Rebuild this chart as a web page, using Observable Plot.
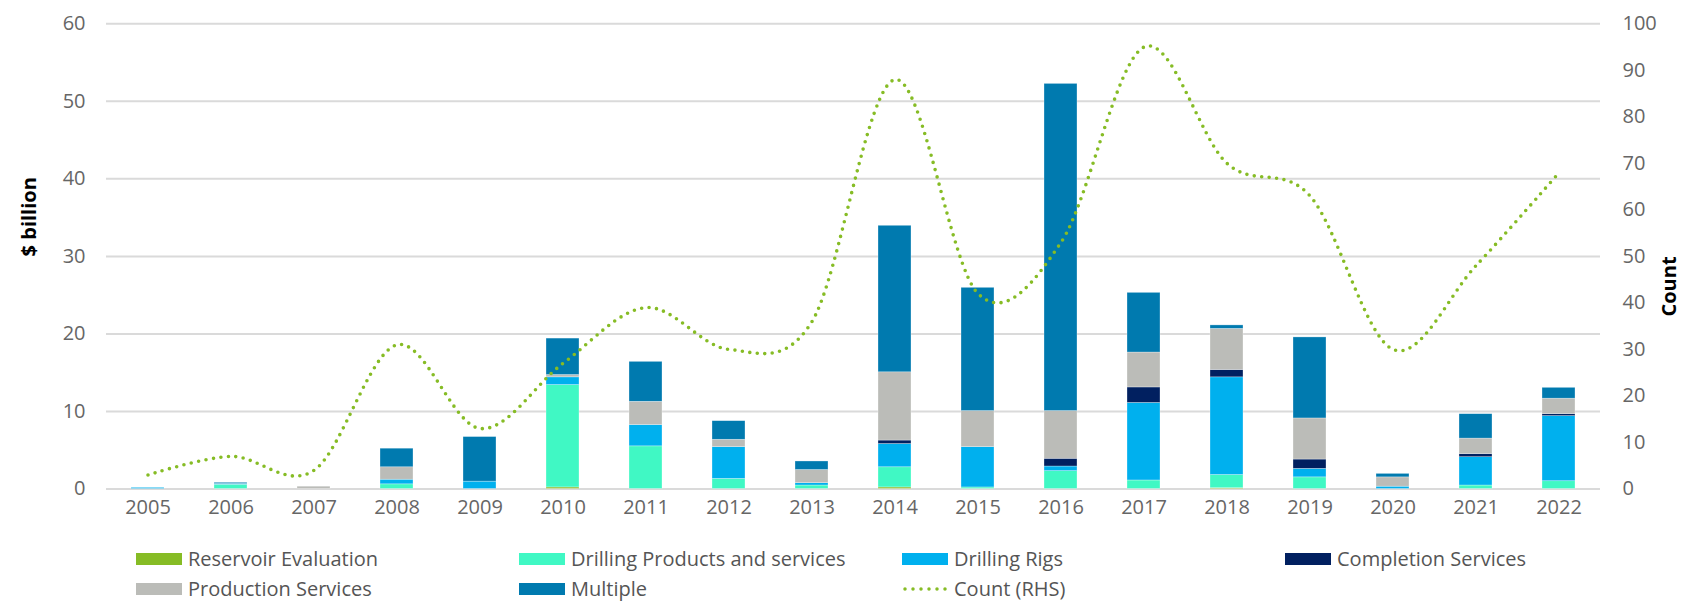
<!DOCTYPE html>
<html><head><meta charset="utf-8">
<script src="https://cdn.jsdelivr.net/npm/d3@7"></script>
<script src="https://cdn.jsdelivr.net/npm/@observablehq/plot@0.6"></script>
<style>
body{margin:0;background:#fff;font-family:"Open Sans",sans-serif;}
#wrap{position:relative;width:1682px;height:601px;overflow:hidden;}
#chart{position:absolute;left:0;top:0;}
.leg{position:absolute;display:flex;align-items:center;height:22px;line-height:22px;font-size:20px;color:#555;white-space:nowrap;}
.sw{width:46px;height:12px;margin-right:6px;flex:none;}
</style></head><body><div id="wrap"><div id="chart"></div></div>
<script>
const years = ["2005","2006","2007","2008","2009","2010","2011","2012","2013","2014","2015","2016","2017","2018","2019","2020","2021","2022"];
const types = ["Reservoir Evaluation","Drilling Products and services","Drilling Rigs","Completion Services","Production Services","Multiple"];
const colors = ["#86BC25","#40F8C4","#00B0EE","#012060","#BBBCB8","#007AAF"];
const reservoirEvaluation = [0,0,0,0,0,0.2,0,0,0,0.2,0,0,0,0.1,0,0,0,0];
const drillingProducts   = [0,0.55,0,0.6,0,13.2,5.5,1.3,0.45,2.6,0.2,2.3,1.1,1.7,1.5,0,0.45,1.0];
const drillingRigs       = [0.15,0.1,0,0.6,0.95,1.0,2.75,4.1,0.3,3.0,5.2,0.6,10.0,12.6,1.1,0.3,3.65,8.4];
const completionServices = [0,0,0,0,0,0,0,0,0,0.45,0,1.0,2.0,0.95,1.2,0,0.4,0.25];
const productionServices = [0,0,0.3,1.6,0,0.3,3.0,0.95,1.7,8.8,4.65,6.15,4.5,5.3,5.3,1.2,2.0,2.0];
const multiple           = [0,0.15,0,2.4,5.75,4.7,5.15,2.4,1.1,18.9,15.9,42.2,7.7,0.45,10.45,0.45,3.15,1.4];
const counts = [3,7,4,31,13,27,39,30,36,88,42,53,95,70,63,30,48,68];
const leftTicks = [0,10,20,30,40,50,60];
const rightTicks = [0,10,20,30,40,50,60,70,80,90,100];
const countLabel = "Count (RHS)";

const series = [reservoirEvaluation, drillingProducts, drillingRigs, completionServices, productionServices, multiple];
const rows = [];
years.forEach((y,i)=> types.forEach((t,j)=> rows.push({year:y, type:t, value:series[j][i]})));
const countRows = years.map((y,i)=>({year:y, count:counts[i]}));
const ratio = 60/100; // RHS 0–100 mapped onto LHS 0–60

const plot = Plot.plot({
  width:1682, height:530,
  marginLeft:106, marginRight:82, marginTop:23.3, marginBottom:41.5,
  style:{fontFamily:"Open Sans", fontSize:"20px", color:"#666", background:"transparent", overflow:"visible"},
  x:{domain:years, paddingInner:0.6, paddingOuter:0.3},
  y:{domain:[0,60]},
  color:{domain:types, range:colors},
  marks:[
    Plot.ruleY(leftTicks, {stroke:"#dadada", strokeWidth:2}),
    Plot.barY(rows, {x:"year", y:"value", fill:"type", order:types, stroke:"#ffffff", strokeWidth:0.6, strokeOpacity:0.5}),
    Plot.line(countRows, {x:"year", y:d=>d.count*ratio, stroke:"#86BC25", strokeWidth:3.6, strokeDasharray:"0 7.5", strokeLinecap:"round", curve:"cardinal"}),
    Plot.axisX({tickSize:0, tickPadding:11, fill:"#666", label:null}),
    Plot.axisY(leftTicks, {anchor:"left", tickSize:0, tickPadding:21, fill:"#666", label:null}),
    Plot.axisY(rightTicks.map(v=>v*ratio), {anchor:"right", tickSize:0, tickPadding:22, fill:"#666", tickFormat:d=>Math.round(d/ratio), label:null}),
    Plot.text(["$ billion"], {frameAnchor:"left", rotate:-90, dx:-77, fontWeight:"bold", fill:"#000", fontSize:20}),
    Plot.text(["Count"], {frameAnchor:"right", rotate:-90, dx:69, fontWeight:"bold", fill:"#000", fontSize:20})
  ]
});
document.getElementById("chart").appendChild(plot);

// legend
const wrap = document.getElementById("wrap");
const colX = [136, 519, 902, 1285];
const rowY = [548, 578];
const legendItems = types.map((t,i)=>({label:t, color:colors[i]})).concat([{label:countLabel, line:true}]);
legendItems.forEach((it, k)=>{
  const div = document.createElement("div");
  div.className = "leg";
  div.style.left = colX[k % 4] + "px";
  div.style.top = rowY[Math.floor(k / 4)] + "px";
  if (it.line) {
    div.innerHTML = `<svg class="sw" width="46" height="12"><line x1="3" y1="6" x2="44" y2="6" stroke="#86BC25" stroke-width="3.5" stroke-dasharray="0 8" stroke-linecap="round"/></svg>`;
  } else {
    const sw = document.createElement("div");
    sw.className = "sw";
    sw.style.background = it.color;
    div.appendChild(sw);
  }
  const span = document.createElement("span");
  span.textContent = it.label;
  div.appendChild(span);
  wrap.appendChild(div);
});
</script></body></html>
